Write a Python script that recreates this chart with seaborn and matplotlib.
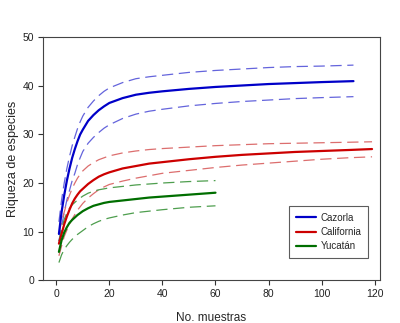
import matplotlib
matplotlib.use("Agg")
import matplotlib.pyplot as plt
import seaborn as sns
import pandas as pd

# Muestras (x) for each locality
x_caz = [1, 2, 3, 4, 5, 6, 7, 8, 9, 10, 12, 14, 16, 18, 20, 25, 30, 35, 40, 50, 60, 70, 80, 90, 100, 112]
caz_mean = [9.5, 14, 17.5, 20.5, 23, 25.2, 27, 28.6, 30, 31, 32.8, 34.0, 35.0, 35.8, 36.5, 37.5, 38.2, 38.6, 38.9,
            39.4, 39.8, 40.1, 40.4, 40.6, 40.8, 41.0]
caz_up = [12, 16.5, 20, 23, 25.5, 27.7, 29.5, 31.2, 32.6, 33.8, 35.6, 36.9, 38.0, 38.9, 39.6, 40.7, 41.5, 41.9, 42.2,
          42.8, 43.2, 43.5, 43.8, 44.0, 44.1, 44.3]
caz_lo = [8, 11, 14, 16.5, 18.5, 20.5, 22, 23.8, 25.2, 26.5, 28.2, 29.4, 30.4, 31.3, 32, 33.3, 34.2, 34.8, 35.2,
          35.9, 36.4, 36.8, 37.1, 37.4, 37.6, 37.8]

x_cal = [1, 2, 3, 4, 5, 6, 7, 8, 9, 10, 12, 14, 16, 18, 20, 25, 30, 35, 40, 50, 60, 70, 80, 90, 100, 110, 119]
cal_mean = [7.5, 9.5, 11.5, 13.1, 14.5, 15.8, 16.8, 17.6, 18.3, 18.8, 19.8, 20.6, 21.3, 21.8, 22.2, 23.0, 23.5, 24.0,
            24.3, 24.9, 25.4, 25.8, 26.1, 26.4, 26.6, 26.8, 27.0]
cal_up = [9.5, 12, 14, 16, 17.5, 18.9, 20, 21, 21.8, 22.5, 23.5, 24.2, 24.8, 25.2, 25.6, 26.2, 26.6, 26.9,
          27.1, 27.4, 27.7, 27.9, 28.1, 28.2, 28.3, 28.4, 28.5]
cal_lo = [5, 7, 9, 10.3, 11.5, 12.6, 13.5, 14.4, 15.1, 15.8, 16.9, 17.8, 18.6, 19.2, 19.7, 20.4, 21.0, 21.5,
          22.0, 22.6, 23.2, 23.7, 24.1, 24.5, 24.9, 25.2, 25.4]

x_yuc = [1, 2, 3, 4, 5, 6, 7, 8, 9, 10, 12, 14, 16, 18, 20, 25, 30, 35, 40, 50, 60]
yuc_mean = [5.8, 8.2, 9.8, 10.9, 11.8, 12.4, 12.9, 13.4, 13.8, 14.2, 14.8, 15.3, 15.6, 15.9, 16.1, 16.4, 16.7, 17.0,
            17.2, 17.6, 18.0]
yuc_up = [8, 10.5, 12.5, 13.8, 14.8, 15.5, 16, 16.5, 16.9, 17.3, 17.9, 18.3, 18.6, 18.8, 19.0, 19.3, 19.6, 19.8,
          20.0, 20.3, 20.5]
yuc_lo = [3.6, 5.2, 6.3, 7.1, 7.8, 8.4, 8.9, 9.4, 9.8, 10.2, 11.0, 11.6, 12.1, 12.5, 12.8, 13.4, 13.9, 14.2,
          14.5, 15.0, 15.3]

sites = ["Cazorla", "California", "Yucatán"]
solid_colors = {"Cazorla": "#0000c8", "California": "#cc0000", "Yucatán": "#006e00"}
dash_colors = {"Cazorla": "#6464dc", "California": "#dc6e6e", "Yucatán": "#4e9e4e"}

series = {
    "Cazorla": (x_caz, caz_mean, caz_up, caz_lo),
    "California": (x_cal, cal_mean, cal_up, cal_lo),
    "Yucatán": (x_yuc, yuc_mean, yuc_up, yuc_lo),
}

sns.set_style("ticks")
plt.rcParams["font.family"] = ["Liberation Sans", "DejaVu Sans"]

fig = plt.figure(figsize=(4.0, 3.23), dpi=100)
ax = fig.add_axes([0.1075, 0.133, 0.8425, 0.751])

for site in sites:
    xs, m, u, l = series[site]
    for vals in (u, l):
        df = pd.DataFrame({"x": xs, "y": vals})
        sns.lineplot(data=df, x="x", y="y", ax=ax, color=dash_colors[site],
                     lw=0.9, estimator=None, sort=False)
        ax.lines[-1].set_dashes([9, 4.5])
for site in sites:
    xs, m, u, l = series[site]
    df = pd.DataFrame({"x": xs, "y": m})
    sns.lineplot(data=df, x="x", y="y", ax=ax, color=solid_colors[site],
                 lw=1.6, estimator=None, sort=False, label=site)

ax.set_xlim(-5, 122)
ax.set_ylim(0, 50)
ax.set_xticks([0, 20, 40, 60, 80, 100, 120])
ax.set_yticks([0, 10, 20, 30, 40, 50])
ax.tick_params(axis="both", direction="out", length=3.5, width=0.8,
               labelsize=7.5, color="#333333", labelcolor="#222222", pad=3)
for s in ax.spines.values():
    s.set_visible(True)
    s.set_linewidth(0.8)
    s.set_color("#444444")

ax.set_xlabel("No. muestras", fontsize=8.5, labelpad=9)
ax.set_ylabel("Riqueza de especies", fontsize=9, labelpad=2.5)

leg = ax.legend(loc="lower right", bbox_to_anchor=(0.965, 0.09), fontsize=7,
                frameon=True, fancybox=False, edgecolor="#333333",
                handlelength=2.0, handletextpad=0.5, borderpad=0.7,
                labelspacing=0.45, borderaxespad=0)
leg.get_frame().set_linewidth(0.8)

fig.savefig("out.png", dpi=100)
